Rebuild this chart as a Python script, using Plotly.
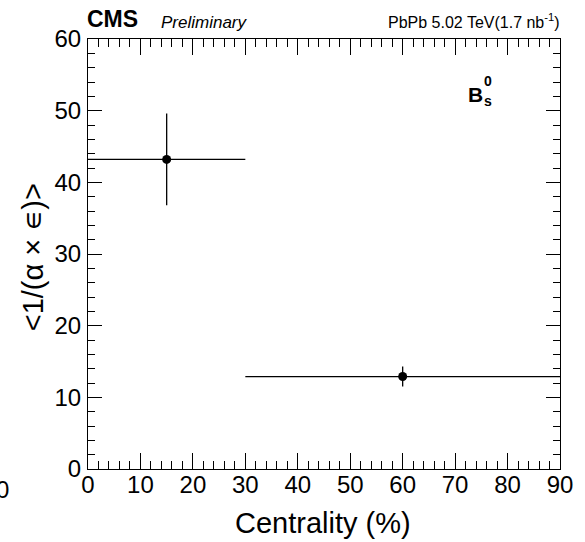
import plotly.graph_objects as go

# Data
bin_low = [0, 30]
bin_high = [30, 90]
values = [43.2, 12.9]
y_err = [6.4, 1.4]
x_ticks = [0, 10, 20, 30, 40, 50, 60, 70, 80, 90]
y_ticks = [0, 10, 20, 30, 40, 50, 60]

centers = [(a + b) / 2 for a, b in zip(bin_low, bin_high)]
x_err = [(b - a) / 2 for a, b in zip(bin_low, bin_high)]

FONT = "Liberation Sans, Arial, Helvetica, sans-serif"

fig = go.Figure()
fig.add_trace(go.Scatter(
    x=centers, y=values, mode="markers",
    marker=dict(color="black", size=9, symbol="circle"),
    error_x=dict(type="data", array=x_err, color="black", thickness=1.3, width=0),
    error_y=dict(type="data", array=y_err, color="black", thickness=1.3, width=0),
    showlegend=False, cliponaxis=False,
))

L, R, T, B = 88, 14, 39, 73
W, H = 585, 542
pw, ph = W - L - R, H - T - B


def px(xp):
    return (xp - L) / pw


def py(yp):
    return (T + ph - yp) / ph


axis_common = dict(
    showline=True, linecolor="black", linewidth=1, mirror="ticks",
    ticks="inside", tickcolor="black", tickwidth=1,
    showgrid=False, zeroline=False,
    tickfont=dict(family=FONT, size=24, color="black"),
)

fig.update_layout(
    width=W, height=H,
    margin=dict(l=L, r=R, t=T, b=B, pad=0),
    paper_bgcolor="white", plot_bgcolor="white",
    font=dict(family=FONT, color="black"),
    xaxis=dict(range=[0, 90], tickvals=x_ticks, ticklen=16,
               minor=dict(dtick=2, ticklen=8, ticks="inside", tickcolor="black", tickwidth=1),
               ticklabelstandoff=-6, **axis_common),
    yaxis=dict(range=[0, 60], tickvals=y_ticks, ticklen=14,
               minor=dict(dtick=2, ticklen=7, ticks="inside", tickcolor="black", tickwidth=1),
               ticklabelstandoff=1, **axis_common),
)

ann = []
ann.append(dict(text="<1/(α × ∊)>", x=px(32), y=py(257), xref="paper", yref="paper",
                textangle=-90, showarrow=False, font=dict(family=FONT, size=29),
                xanchor="center", yanchor="middle"))
ann.append(dict(text="Centrality (%)", x=px(328.5), y=py(523), xref="paper", yref="paper",
                showarrow=False, font=dict(family=FONT, size=29),
                xanchor="center", yanchor="middle"))
ann.append(dict(text="<b>CMS</b>", x=px(85), y=py(19), xref="paper", yref="paper",
                showarrow=False, font=dict(family=FONT, size=23),
                xanchor="left", yanchor="middle"))
ann.append(dict(text="<i>Preliminary</i>", x=px(161), y=py(22), xref="paper", yref="paper",
                showarrow=False, font=dict(family=FONT, size=17),
                xanchor="left", yanchor="middle"))
ann.append(dict(text="PbPb 5.02 TeV(1.7 nb<sup>-1</sup>)", x=px(573), y=py(21), xref="paper", yref="paper",
                showarrow=False, font=dict(family=FONT, size=16),
                xanchor="right", yanchor="middle"))
ann.append(dict(text="<b>B</b>", x=px(485), y=py(94), xref="paper", yref="paper",
                showarrow=False, font=dict(family=FONT, size=21),
                xanchor="center", yanchor="middle"))
ann.append(dict(text="<b>0</b>", x=px(497), y=py(81), xref="paper", yref="paper",
                showarrow=False, font=dict(family=FONT, size=14),
                xanchor="center", yanchor="middle"))
ann.append(dict(text="<b>s</b>", x=px(497), y=py(101), xref="paper", yref="paper",
                showarrow=False, font=dict(family=FONT, size=14),
                xanchor="center", yanchor="middle"))
ann.append(dict(text="0", x=px(9), y=py(490), xref="paper", yref="paper",
                showarrow=False, font=dict(family=FONT, size=24),
                xanchor="right", yanchor="middle"))
fig.update_layout(annotations=ann)

fig.write_html("out.html")
